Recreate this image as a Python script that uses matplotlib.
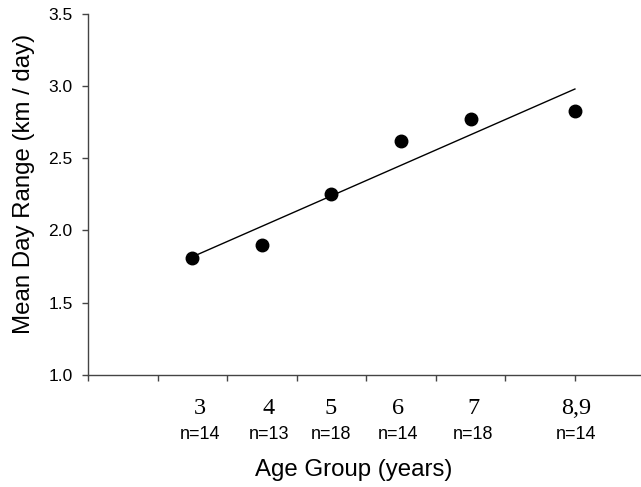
import matplotlib
matplotlib.use("Agg")
import matplotlib.pyplot as plt
import numpy as np

# Data
categories = ["3", "4", "5", "6", "7", "8,9"]
n_values = [14, 13, 18, 14, 18, 14]
day_range = [1.81, 1.90, 2.25, 2.62, 2.77, 2.83]
x_pos = [1.5, 2.5, 3.5, 4.5, 5.5, 7.0]
label_x = [1.61, 2.60, 3.49, 4.46, 5.54, 7.02]
y_ticks = [1.0, 1.5, 2.0, 2.5, 3.0, 3.5]

plt.rcParams['font.family'] = ['Liberation Sans', 'DejaVu Sans']

fig = plt.figure(figsize=(6.41, 4.87), dpi=100)
ax = fig.add_axes([88 / 641, 1 - 374.7 / 487, 1 - 88 / 641, (374.7 - 14) / 487])

ax.plot(x_pos, day_range, 'o', color='black', markersize=9, zorder=3)
coef = np.polyfit(x_pos, day_range, 1)
xs = np.array([x_pos[0], x_pos[-1]])
ax.plot(xs, np.polyval(coef, xs), color='black', linewidth=1.0, zorder=2)

ax.set_xlim(0, 7.95)
ax.set_ylim(1.0, 3.5)
ax.set_yticks(y_ticks)
ax.set_yticklabels([f"{v:.1f}" for v in y_ticks])
ax.set_xticks(np.arange(0, 8))
ax.set_xticklabels([])

for s in ['top', 'right']:
    ax.spines[s].set_visible(False)
for s in ['left', 'bottom']:
    ax.spines[s].set_color('#444444')
    ax.spines[s].set_linewidth(1.0)
ax.tick_params(axis='both', direction='out', length=4, width=1.0, color='#444444')
ax.tick_params(axis='y', labelsize=12.5, pad=7)

trans = ax.get_xaxis_transform()
for lx, cat, n in zip(label_x, categories, n_values):
    ax.text(lx, -0.109, cat, transform=trans, ha='center', va='baseline',
            fontsize=17.5, family=['Liberation Serif', 'DejaVu Serif'])
    ax.text(lx, -0.179, f"n={n}", transform=trans, ha='center', va='baseline',
            fontsize=13)

fig.text(353.5 / 641, 1 - 476 / 487, "Age Group (years)", ha='center', va='baseline', fontsize=17.3)
fig.text(24 / 641, 1 - 183.5 / 487, "Mean Day Range (km / day)", rotation=90,
         ha='center', va='center', fontsize=17.3)

fig.savefig("out.png", dpi=100)
